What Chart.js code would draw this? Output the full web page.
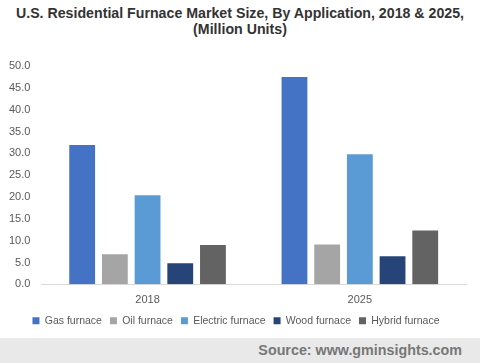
<!DOCTYPE html>
<html>
<head>
<meta charset="utf-8">
<script src="https://cdn.jsdelivr.net/npm/chart.js@4/dist/chart.umd.min.js"></script>
<style>
    html, body { margin: 0; padding: 0; background: #fff; }
    body { width: 480px; height: 363px; overflow: hidden; font-family: "Liberation Sans", Arial, sans-serif; }
    .title { text-align: center; font-weight: bold; font-size: 14.2px; line-height: 16px; color: #333; padding-top: 5px; }
    .chart-box { position: relative; width: 480px; height: 301px; }
    .source { position: absolute; left: 0; top: 338px; width: 480px; height: 25px; background: #e9e9e9;
              color: #777; font-weight: bold; font-size: 14.3px; line-height: 25px; text-align: right; box-sizing: border-box; padding-right: 18px; }
</style>
</head>
<body>
<div class="title">U.S. Residential Furnace Market Size, By Application, 2018 &amp; 2025,<br>(Million Units)</div>
<div class="chart-box"><canvas id="furnaceChart"></canvas></div>
<div class="source">Source: www.gminsights.com</div>
<script>
    // Données
    const years = ["2018", "2025"];
    const gasFurnace = [31.9, 47.5];
    const oilFurnace = [6.9, 9.1];
    const electricFurnace = [20.4, 29.8];
    const woodFurnace = [4.8, 6.4];
    const hybridFurnace = [9.0, 12.3];

    const seriesNames = ["Gas furnace", "Oil furnace", "Electric furnace", "Wood furnace", "Hybrid furnace"];
    const seriesColors = ["#4472C4", "#A5A5A5", "#5B9BD5", "#264478", "#636363"];
    const seriesValues = [gasFurnace, oilFurnace, electricFurnace, woodFurnace, hybridFurnace];

    const ctx = document.getElementById("furnaceChart").getContext("2d");

    new Chart(ctx, {
        type: "bar",
        data: {
            labels: years,
            datasets: seriesNames.map((name, i) => ({
                label: name,
                data: seriesValues[i],
                backgroundColor: seriesColors[i],
                categoryPercentage: 0.77,
                barPercentage: 0.79
            }))
        },
        options: {
            responsive: true,
            maintainAspectRatio: false,
            animation: false,
            layout: { padding: { left: 6, right: 14, top: 29, bottom: 2 } },
            scales: {
                y: {
                    min: 0,
                    max: 50,
                    ticks: {
                        stepSize: 5,
                        color: "#595959",
                        font: { family: "Liberation Sans", size: 11 },
                        callback: v => v.toFixed(1)
                    },
                    grid: { display: false },
                    border: { display: false }
                },
                x: {
                    ticks: { padding: 1, color: "#595959", font: { family: "Liberation Sans", size: 11 } },
                    grid: { display: false },
                    border: { display: true, color: "#d9d9d9" }
                }
            },
            plugins: {
                legend: {
                    display: true,
                    position: "bottom",
                    labels: {
                        boxWidth: 7,
                        boxHeight: 7,
                        padding: 8,
                        color: "#595959",
                        font: { family: "Liberation Sans", size: 10.5 }
                    }
                },
                tooltip: { enabled: false }
            }
        }
    });
</script>
</body>
</html>
